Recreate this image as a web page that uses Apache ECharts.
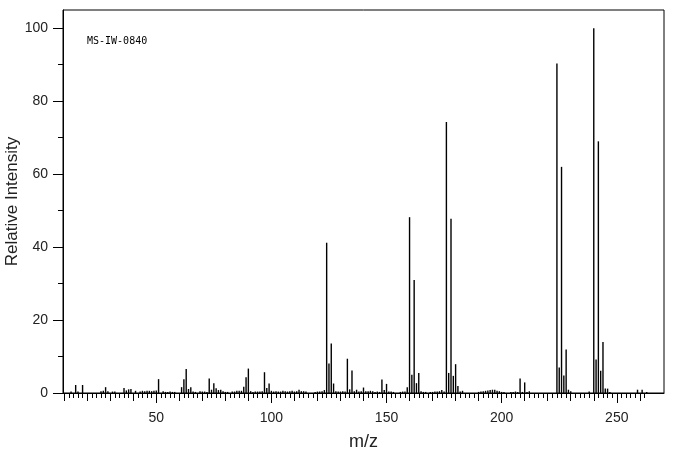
<!DOCTYPE html>
<html>
<head>
<meta charset="utf-8">
<script src="https://cdn.jsdelivr.net/npm/echarts@6/dist/echarts.min.js"></script>
<style>
  html, body { margin: 0; padding: 0; background: #fff; }
  #main { width: 676px; height: 455px; }
</style>
</head>
<body>
<div id="main"></div>
<script>
// m/z values and relative intensities
var mzValues = [13, 15, 16, 18, 26, 27, 28, 29, 31, 32, 36, 37, 38, 39, 41, 43, 44, 45, 46, 47, 48, 49, 50, 51, 53, 54, 55, 56, 57, 58,
  61, 62, 63, 64, 65, 66, 67, 69, 70, 71, 72, 73, 74, 75, 76, 77, 78, 79, 80, 81, 83, 84, 85, 86, 87, 88, 89, 90,
  91, 92, 93, 94, 95, 96, 97, 98, 99, 100, 101, 102, 103, 104, 105, 106, 107, 108, 109, 110, 111, 112, 113, 114, 115,
  119, 120, 121, 122, 123, 124, 125, 126, 127, 128, 129, 130, 131, 132, 133, 134, 135, 136, 137, 138, 139, 140,
  141, 142, 143, 144, 145, 146, 147, 148, 149, 150, 151, 152, 153, 156, 157, 158, 159, 160, 161, 162, 163, 164, 165,
  166, 167, 169, 170, 171, 172, 173, 174, 175, 176, 177, 178, 179, 180, 181, 182, 183, 190, 191, 192, 193, 194, 195,
  196, 197, 198, 199, 200, 201, 204, 205, 206, 207, 208, 209, 210, 211, 212, 224, 225, 226, 227, 228, 229, 230, 238,
  240, 241, 242, 243, 244, 245, 246, 247, 259, 261, 263];
var intensities = [0.4, 2.2, 0.4, 2.2, 0.5, 0.6, 1.6, 0.5, 0.4, 0.4, 1.4, 0.7, 1.0, 1.1, 0.6, 0.4, 0.6, 0.5, 0.6, 0.6, 0.5, 0.6, 0.7, 3.8, 0.5, 0.3, 0.3, 0.4, 0.3, 0.3,
  1.6, 3.8, 6.6, 1.1, 1.6, 0.4, 0.3, 0.5, 0.4, 0.4, 0.3, 4.0, 0.9, 2.7, 1.3, 0.8, 0.9, 0.5, 0.3, 0.3, 0.4, 0.4, 0.6, 0.6, 0.6, 1.7, 4.3, 6.7,
  0.5, 0.3, 0.4, 0.4, 0.4, 0.5, 5.7, 1.4, 2.6, 0.6, 0.4, 0.5, 0.4, 0.4, 0.6, 0.5, 0.4, 0.5, 0.6, 0.4, 0.5, 0.9, 0.5, 0.5, 0.4,
  0.3, 0.4, 0.4, 0.5, 0.8, 41.2, 8.1, 13.6, 2.6, 0.5, 0.4, 0.4, 0.5, 0.4, 9.4, 1.0, 6.2, 0.5, 0.9, 0.4, 0.5, 1.5,
  0.5, 0.5, 0.6, 0.5, 0.3, 0.4, 0.3, 3.7, 0.8, 2.5, 0.4, 0.4, 0.3, 0.3, 0.4, 0.4, 1.6, 48.2, 5.0, 31.0, 2.7, 5.5, 0.5,
  0.3, 0.3, 0.3, 0.3, 0.4, 0.4, 0.5, 0.8, 0.4, 74.3, 5.5, 47.8, 4.7, 7.9, 1.9, 0.4, 0.6, 0.3, 0.4, 0.5, 0.6, 0.7, 0.8,
  0.9, 0.9, 0.6, 0.5, 0.3, 0.3, 0.3, 0.3, 0.4, 0.3, 4.0, 0.3, 2.9, 0.3, 0.5, 90.3, 7.0, 62.0, 4.8, 11.9, 0.9, 0.5, 0.4,
  100, 9.2, 69.0, 6.1, 14.0, 1.2, 1.2, 0.3, 0.9, 0.9, 0.3];

var xLabelValues = [50, 100, 150, 200, 250];
var yLabelValues = [0, 20, 40, 60, 80, 100];
var yMinorTicks = [10, 30, 50, 70, 90];
var xTicks2 = [];
for (var t = 10; t <= 262; t += 2) xTicks2.push(t);
var xTicks10 = [10, 20, 30, 40, 60, 70, 80, 90, 110, 120, 130, 140, 160, 170, 180, 190, 210, 220, 230, 240, 260];

var peaks = mzValues.map(function (m, i) { return [m, intensities[i]]; });

var xMin = 9.5, xMax = 270.5;
var black = '#000';
var labelFont = { color: '#222', fontSize: 14, fontFamily: 'Liberation Sans, Arial, sans-serif' };

var chart = echarts.init(document.getElementById('main'), null, { renderer: 'canvas' });
chart.setOption({
  animation: false,
  backgroundColor: '#fff',
  grid: {
    left: 63, right: 12, top: 10, bottom: 62, outerBoundsMode: 'none', containLabel: false,
    show: true, borderColor: black, borderWidth: 1, backgroundColor: 'transparent'
  },
  graphic: [{
    type: 'text', left: 87, top: 36,
    style: { text: 'MS-IW-0840', fill: '#000', font: '10px "DejaVu Sans Mono", monospace' }
  }],
  xAxis: [
    {
      type: 'value', min: xMin, max: xMax, position: 'bottom',
      axisLine: { show: true, lineStyle: { color: black, width: 1 } },
      axisTick: { show: true, customValues: xTicks2, length: 5, lineStyle: { color: black } },
      axisLabel: { show: false }, splitLine: { show: false }
    },
    {
      type: 'value', min: xMin, max: xMax, position: 'bottom',
      axisLine: { show: false },
      axisTick: { show: true, customValues: xTicks10, length: 8, lineStyle: { color: black } },
      axisLabel: { show: false }, splitLine: { show: false }
    },
    {
      type: 'value', min: xMin, max: xMax, position: 'bottom',
      axisLine: { show: false },
      axisTick: { show: true, customValues: xLabelValues, length: 10, lineStyle: { color: black } },
      axisLabel: Object.assign({ show: true, customValues: xLabelValues, margin: 18 }, labelFont),
      splitLine: { show: false },
      name: 'm/z', nameLocation: 'middle', nameGap: 40,
      nameTextStyle: { color: '#222', fontSize: 18, fontFamily: 'Liberation Sans, Arial, sans-serif' }
    }
  ],
  yAxis: [
    {
      type: 'value', min: 0, max: 105, position: 'left',
      axisLine: { show: true, lineStyle: { color: black, width: 1 } },
      axisTick: { show: true, customValues: yLabelValues, length: 10, lineStyle: { color: black } },
      axisLabel: Object.assign({ show: true, customValues: yLabelValues, margin: 15 }, labelFont),
      splitLine: { show: false },
      name: 'Relative Intensity', nameLocation: 'middle', nameGap: 42, nameMoveOverlap: false,
      nameTextStyle: { color: '#222', fontSize: 17, fontFamily: 'Liberation Sans, Arial, sans-serif' }
    },
    {
      type: 'value', min: 0, max: 105, position: 'left',
      axisLine: { show: false },
      axisTick: { show: true, customValues: yMinorTicks, length: 5, lineStyle: { color: black } },
      axisLabel: { show: false }, splitLine: { show: false }
    }
  ],
  series: [{
    type: 'bar',
    xAxisIndex: 0, yAxisIndex: 0,
    barWidth: 1.4,
    itemStyle: { color: black },
    data: peaks
  }]
});
</script>
</body>
</html>
